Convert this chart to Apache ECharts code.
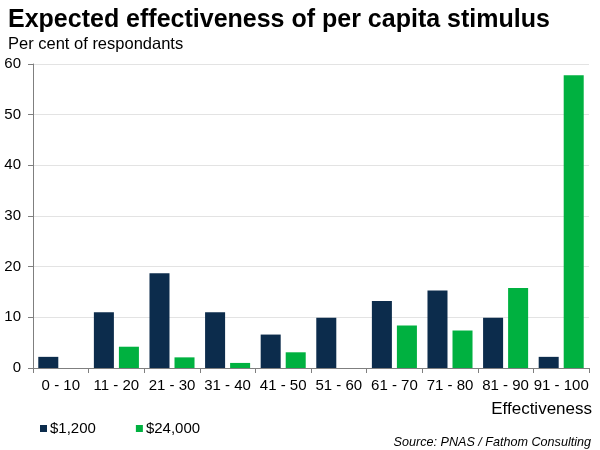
<!DOCTYPE html>
<html><head><meta charset="utf-8">
<script src="https://cdn.jsdelivr.net/npm/echarts@6/dist/echarts.min.js"></script>
<style>html,body{margin:0;padding:0;background:#fff}#c{width:600px;height:450px}</style>
</head><body><div id="c"></div>
<script>
const categories = ['0 - 10','11 - 20','21 - 30','31 - 40','41 - 50','51 - 60','61 - 70','71 - 80','81 - 90','91 - 100'];
const s1200 = [2.2, 11.0, 18.7, 11.0, 6.6, 9.9, 13.2, 15.3, 9.9, 2.2];
const s24000 = [0, 4.2, 2.1, 1.0, 3.1, 0, 8.4, 7.4, 15.8, 57.8];
const yTicks = [0, 10, 20, 30, 40, 50, 60];
const FONT = '"Liberation Sans", Arial, sans-serif';
const chart = echarts.init(document.getElementById('c'), null, {renderer:'canvas'});
chart.setOption({
  animation:false,
  textStyle:{fontFamily:FONT},
  title:[
    {text:'Expected effectiveness of per capita stimulus', left:3, top:3, textStyle:{fontFamily:FONT, fontSize:25, fontWeight:'bold', color:'#000'}},
    {text:'Per cent of respondants', left:3, top:31, textStyle:{fontFamily:FONT, fontSize:16.5, fontWeight:'normal', color:'#000'}},
    {text:'Effectiveness', right:3, top:396, textStyle:{fontFamily:FONT, fontSize:17, fontWeight:'normal', color:'#000'}},
    {text:'Source: PNAS / Fathom Consulting', right:4, top:431, textStyle:{fontFamily:FONT, fontSize:12.6, fontStyle:'italic', fontWeight:'normal', color:'#000'}}
  ],
  legend:{left:35, top:416, itemWidth:7, itemHeight:7, itemGap:40, icon:'rect',
    textStyle:{fontFamily:FONT, fontSize:15, color:'#000', padding:[0,0,0,-2]},
    data:['$1,200','$24,000']},
  grid:{left:33, right:11, top:64, bottom:82},
  xAxis:{type:'category', data:categories,
    axisLine:{lineStyle:{color:'#7f7f7f'}},
    axisTick:{show:true, alignWithLabel:false, length:5, lineStyle:{color:'#7f7f7f'}},
    axisLabel:{fontFamily:FONT, fontSize:15, color:'#000', margin:10, interval:0}},
  yAxis:{type:'value', min:0, max:60, interval:10,
    axisLine:{show:true, lineStyle:{color:'#7f7f7f'}},
    axisTick:{show:true, length:5, lineStyle:{color:'#7f7f7f'}},
    axisLabel:{fontFamily:FONT, fontSize:15, color:'#000', margin:12,
      formatter:v=> yTicks.includes(v) ? String(v) : ''},
    splitLine:{lineStyle:{color:'#e3e3e3'}}},
  series:[
    {name:'$1,200', type:'bar', data:s1200, itemStyle:{color:'#0c2c4c'}, barGap:'25%', barCategoryGap:'19%'},
    {name:'$24,000', type:'bar', data:s24000, itemStyle:{color:'#00b140'}}
  ]
});
</script></body></html>
